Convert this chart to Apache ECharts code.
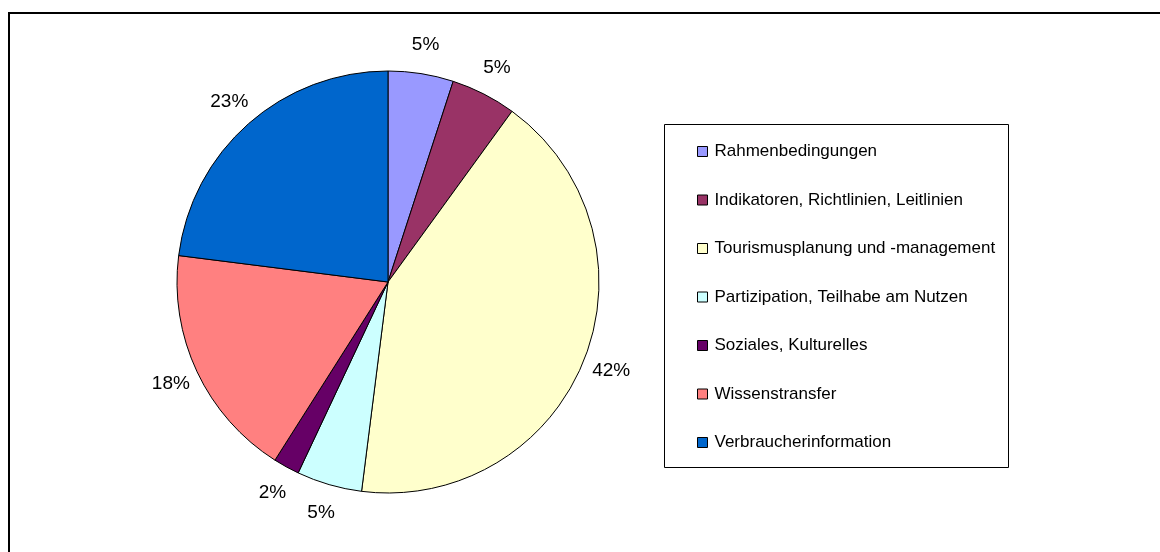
<!DOCTYPE html>
<html>
<head>
<meta charset="utf-8">
<script src="https://cdn.jsdelivr.net/npm/echarts@6/dist/echarts.min.js"></script>
<style>
  html, body { margin: 0; padding: 0; background: #fff; }
  #chart { width: 1160px; height: 552px; }
</style>
</head>
<body>
<div id="chart"></div>
<script>
// Kategorien und Anteile (%)
const categories = [
  "Rahmenbedingungen",
  "Indikatoren, Richtlinien, Leitlinien",
  "Tourismusplanung und -management",
  "Partizipation, Teilhabe am Nutzen",
  "Soziales, Kulturelles",
  "Wissenstransfer",
  "Verbraucherinformation"
];
const shares = [5, 5, 42, 5, 2, 18, 23];
const colors = ["#9999ff", "#993366", "#ffffcc", "#ccffff", "#660066", "#ff8080", "#0066cc"];

const pieData = categories.map((name, i) => ({ name, value: shares[i] }));

const chart = echarts.init(document.getElementById("chart"), null, { renderer: "canvas" });

const font = "'Liberation Sans', Arial, sans-serif";

chart.setOption({
  animation: false,
  color: colors,
  graphic: [
    // Rahmen (rechts und unten abgeschnitten)
    {
      type: "rect",
      shape: { x: 9, y: 13, width: 1200, height: 600 },
      style: { fill: "none", stroke: "#000", lineWidth: 2 },
      silent: true
    },
    // Legendenkasten
    {
      type: "rect",
      shape: { x: 664.5, y: 124.5, width: 344, height: 343 },
      style: { fill: "#fff", stroke: "#000", lineWidth: 1 },
      silent: true,
      z: 0
    }
  ],
  legend: {
    orient: "vertical",
    left: 697,
    top: 143,
    data: categories,
    icon: "rect",
    itemWidth: 10,
    itemHeight: 10,
    itemGap: 31.5,
    padding: 0,
    itemStyle: { borderColor: "#000", borderWidth: 1 },
    textStyle: { fontFamily: font, fontSize: 17, color: "#000", lineHeight: 17, padding: [0, 0, 0, 2] },
    selectedMode: false,
    z: 5
  },
  series: [
    {
      type: "pie",
      center: [388, 282],
      radius: 211,
      startAngle: 90,
      clockwise: true,
      data: pieData,
      label: { show: false },
      labelLine: { show: false },
      itemStyle: { borderColor: "#000", borderWidth: 1 },
      emphasis: { disabled: true }
    },
    {
      // unsichtbarer Ring nur für die Prozentbeschriftungen
      type: "pie",
      center: [388, 282],
      radius: [211, 263],
      startAngle: 90,
      clockwise: true,
      data: pieData,
      silent: true,
      itemStyle: { color: "transparent", borderWidth: 0 },
      label: {
        show: true,
        position: "inside",
        formatter: "{c}%",
        fontFamily: font,
        fontSize: 19,
        color: "#000"
      },
      labelLine: { show: false },
      emphasis: { disabled: true }
    }
  ]
});
</script>
</body>
</html>
